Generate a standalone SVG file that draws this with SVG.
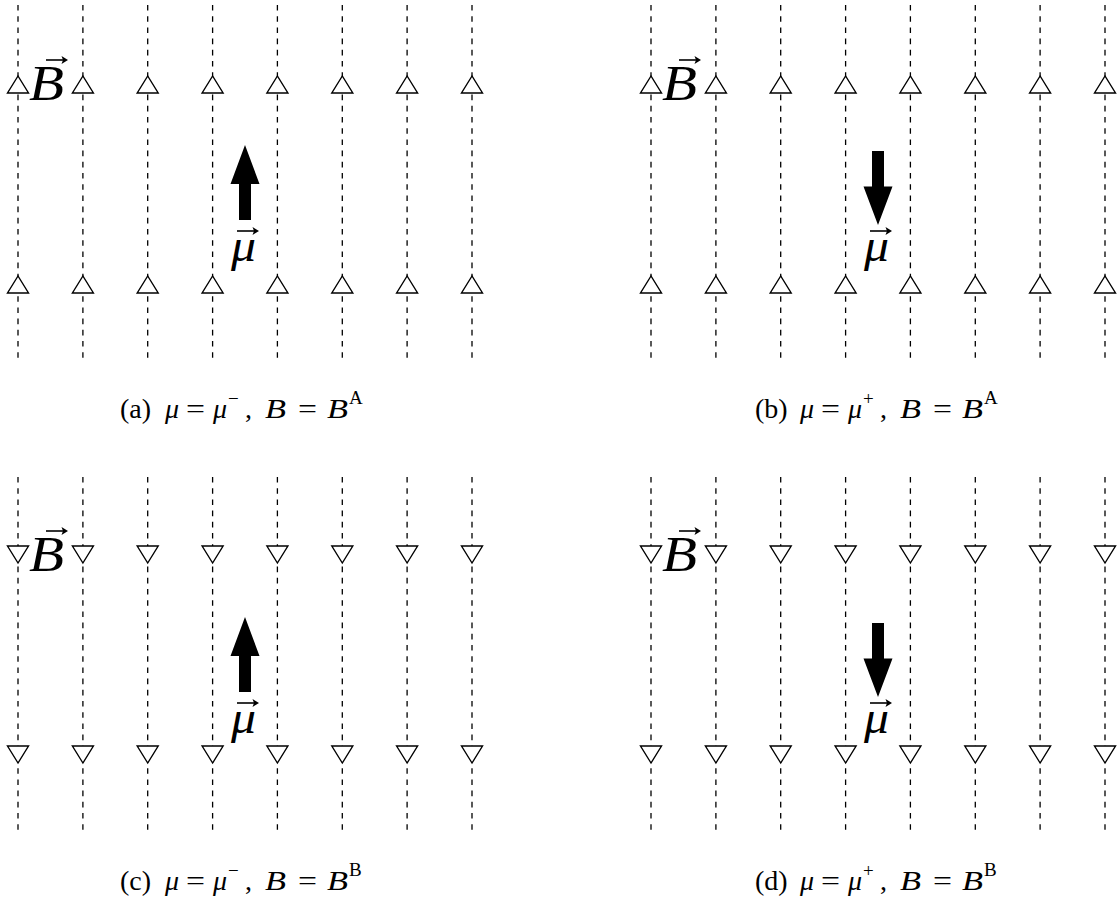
<svg xmlns="http://www.w3.org/2000/svg" xmlns:xlink="http://www.w3.org/1999/xlink" width="1117" height="901" viewBox="0 0 1117 901">
<style>
.fl{stroke:#000;stroke-width:1.3;stroke-dasharray:5.6 5.6;fill:none}
.tri{fill:#fff;stroke:#000;stroke-width:1.4;stroke-linejoin:miter}
.big{fill:#000}
.sym{font-family:"Liberation Serif","DejaVu Serif",serif;font-style:italic;fill:#000}
.vec{stroke:#000;stroke-width:1.6;fill:none}
.vh{fill:#000}
.cap{font-family:"Liberation Serif","DejaVu Serif",serif;font-size:28px;fill:#000}
.it{font-style:italic}
.sup{font-size:19px}
</style>
<defs>
<polygon id="tu" class="tri" points="0,-8.5 -10.5,8.5 10.5,8.5"/>
<polygon id="td" class="tri" points="0,8.5 -10.5,-8.5 10.5,-8.5"/>
<g id="lines">
<line class="fl" x1="18" y1="5" x2="18" y2="363"/>
<line class="fl" x1="82.9" y1="5" x2="82.9" y2="363"/>
<line class="fl" x1="147.7" y1="5" x2="147.7" y2="363"/>
<line class="fl" x1="212.6" y1="5" x2="212.6" y2="363"/>
<line class="fl" x1="277.4" y1="5" x2="277.4" y2="363"/>
<line class="fl" x1="342.3" y1="5" x2="342.3" y2="363"/>
<line class="fl" x1="407.1" y1="5" x2="407.1" y2="363"/>
<line class="fl" x1="472" y1="5" x2="472" y2="363"/>
</g>
<g id="uprow">
<use xlink:href="#tu" x="18"/><use xlink:href="#tu" x="82.9"/><use xlink:href="#tu" x="147.7"/><use xlink:href="#tu" x="212.6"/>
<use xlink:href="#tu" x="277.4"/><use xlink:href="#tu" x="342.3"/><use xlink:href="#tu" x="407.1"/><use xlink:href="#tu" x="472"/>
</g>
<g id="downrow">
<use xlink:href="#td" x="18"/><use xlink:href="#td" x="82.9"/><use xlink:href="#td" x="147.7"/><use xlink:href="#td" x="212.6"/>
<use xlink:href="#td" x="277.4"/><use xlink:href="#td" x="342.3"/><use xlink:href="#td" x="407.1"/><use xlink:href="#td" x="472"/>
</g>
<g id="blabel">
<text class="sym" x="29" y="100" font-size="50" textLength="35" lengthAdjust="spacingAndGlyphs">B</text>
<line class="vec" x1="46" y1="60" x2="65" y2="60"/>
<path class="vh" d="M68,60 L61.5,56 L63,60 L61.5,64 Z"/>
</g>
<g id="mulabel">
<text class="sym" x="231" y="261" font-size="46" textLength="25" lengthAdjust="spacingAndGlyphs">μ</text>
<line class="vec" x1="237" y1="231" x2="256" y2="231"/>
<path class="vh" d="M259,231 L252.5,227 L254,231 L252.5,235 Z"/>
</g>
<polygon id="arrup" class="big" points="245,145 259.5,184 251,184 251,220 239,220 239,184 230.5,184"/>
<polygon id="arrdown" class="big" points="245,225 259.5,186.5 251,186.5 251,151 239,151 239,186.5 230.5,186.5"/>
</defs>

<g id="connectors">
<use xlink:href="#lines"/>
<use xlink:href="#lines" x="633"/>
<use xlink:href="#lines" y="472"/>
<use xlink:href="#lines" x="633" y="472"/>
</g>

<g id="panel-a">
<use xlink:href="#uprow" y="84.5"/>
<use xlink:href="#uprow" y="284.5"/>
<use xlink:href="#blabel"/>
<use xlink:href="#arrup"/>
<use xlink:href="#mulabel"/>
<text class="cap" y="418"><tspan x="120">(a)</tspan><tspan x="165" class="it">μ</tspan><tspan x="186" textLength="19" lengthAdjust="spacingAndGlyphs">=</tspan><tspan x="213" class="it">μ</tspan><tspan class="sup" x="228" y="405">−</tspan><tspan x="245" y="418">,</tspan><tspan x="265" class="it" textLength="21" lengthAdjust="spacingAndGlyphs">B</tspan><tspan x="298" textLength="19" lengthAdjust="spacingAndGlyphs">=</tspan><tspan x="327" class="it" textLength="21" lengthAdjust="spacingAndGlyphs">B</tspan><tspan class="sup" x="349" y="404">A</tspan></text>
</g>

<g id="panel-b">
<use xlink:href="#uprow" x="633" y="84.5"/>
<use xlink:href="#uprow" x="633" y="284.5"/>
<use xlink:href="#blabel" x="633"/>
<use xlink:href="#arrdown" x="633"/>
<use xlink:href="#mulabel" x="633"/>
<text class="cap" y="418"><tspan x="755">(b)</tspan><tspan x="800" class="it">μ</tspan><tspan x="821" textLength="19" lengthAdjust="spacingAndGlyphs">=</tspan><tspan x="848" class="it">μ</tspan><tspan class="sup" x="863" y="405">+</tspan><tspan x="880" y="418">,</tspan><tspan x="900" class="it" textLength="21" lengthAdjust="spacingAndGlyphs">B</tspan><tspan x="933" textLength="19" lengthAdjust="spacingAndGlyphs">=</tspan><tspan x="962" class="it" textLength="21" lengthAdjust="spacingAndGlyphs">B</tspan><tspan class="sup" x="984" y="404">A</tspan></text>
</g>

<g id="panel-c">
<use xlink:href="#downrow" y="554.5"/>
<use xlink:href="#downrow" y="754.5"/>
<use xlink:href="#blabel" y="471"/>
<use xlink:href="#arrup" y="472"/>
<use xlink:href="#mulabel" y="472"/>
<text class="cap" y="890"><tspan x="120">(c)</tspan><tspan x="165" class="it">μ</tspan><tspan x="186" textLength="19" lengthAdjust="spacingAndGlyphs">=</tspan><tspan x="213" class="it">μ</tspan><tspan class="sup" x="228" y="877">−</tspan><tspan x="245" y="890">,</tspan><tspan x="265" class="it" textLength="21" lengthAdjust="spacingAndGlyphs">B</tspan><tspan x="298" textLength="19" lengthAdjust="spacingAndGlyphs">=</tspan><tspan x="327" class="it" textLength="21" lengthAdjust="spacingAndGlyphs">B</tspan><tspan class="sup" x="349" y="876">B</tspan></text>
</g>

<g id="panel-d">
<use xlink:href="#downrow" x="633" y="554.5"/>
<use xlink:href="#downrow" x="633" y="754.5"/>
<use xlink:href="#blabel" x="633" y="471"/>
<use xlink:href="#arrdown" x="633" y="472"/>
<use xlink:href="#mulabel" x="633" y="472"/>
<text class="cap" y="890"><tspan x="755">(d)</tspan><tspan x="800" class="it">μ</tspan><tspan x="821" textLength="19" lengthAdjust="spacingAndGlyphs">=</tspan><tspan x="848" class="it">μ</tspan><tspan class="sup" x="863" y="877">+</tspan><tspan x="880" y="890">,</tspan><tspan x="900" class="it" textLength="21" lengthAdjust="spacingAndGlyphs">B</tspan><tspan x="933" textLength="19" lengthAdjust="spacingAndGlyphs">=</tspan><tspan x="962" class="it" textLength="21" lengthAdjust="spacingAndGlyphs">B</tspan><tspan class="sup" x="984" y="876">B</tspan></text>
</g>
</svg>
